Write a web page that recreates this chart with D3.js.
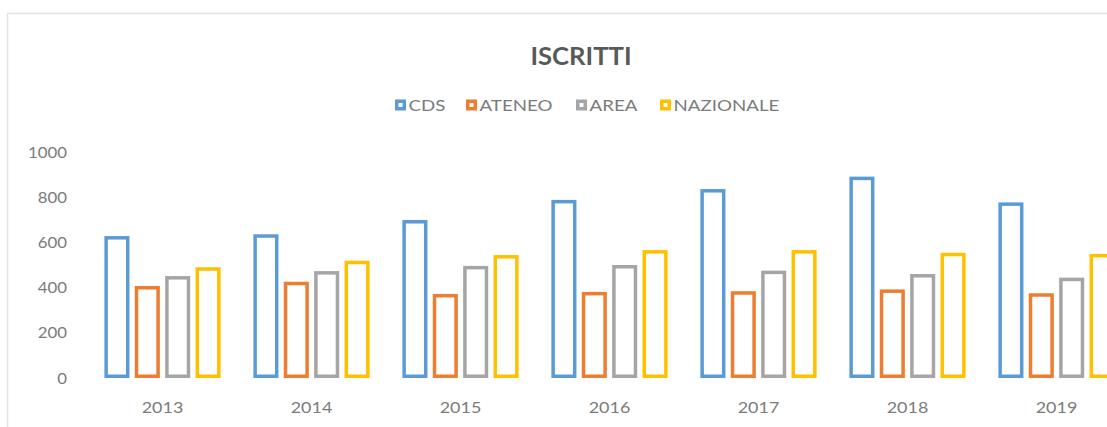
<!DOCTYPE html>
<html>
<head>
<meta charset="utf-8">
<script src="https://cdn.jsdelivr.net/npm/d3@7"></script>
<style>
  body { margin: 0; background: #fff; }
  svg text { font-family: Lato, "Open Sans", sans-serif; }
</style>
</head>
<body>
<svg id="chart" width="1107" height="427"></svg>
<script>
var years = ['2013', '2014', '2015', '2016', '2017', '2018', '2019'];
var seriesNames = ['CDS', 'ATENEO', 'AREA', 'NAZIONALE'];
var cds       = [628, 636, 699, 788, 836, 891, 777];
var ateneo    = [407, 426, 372, 381, 384, 392, 375];
var area      = [451, 473, 496, 500, 475, 460, 444];
var nazionale = [490, 519, 544, 566, 566, 554, 549];
var yTicks = [0, 200, 400, 600, 800, 1000];

var colors = ['#5b9bd5', '#ed7d31', '#a5a5a5', '#ffc000'];
var seriesValues = [cds, ateneo, area, nazionale];
var textColor = '#7b7b7b';

var svg = d3.select('#chart');

// chart frame (only top/left edges are visible, the rest is cropped)
svg.append('rect')
    .attr('x', 7.5).attr('y', 13.5)
    .attr('width', 1200).attr('height', 500)
    .attr('fill', 'none')
    .attr('stroke', '#e3e3e3')
    .attr('stroke-width', 1.5);

var x0 = d3.scaleBand().domain(years).range([88, 1131]).paddingInner(0.22).paddingOuter(0.11);
var x1 = d3.scaleBand().domain(seriesNames).range([0, x0.bandwidth()]).paddingInner(0.175);
var y = d3.scaleLinear().domain([0, 1000]).range([378, 152]);

// source picture is slightly stretched sideways, so text gets a small x-scale
function place(x, yy, s) {
    return 'translate(' + x + ',' + yy + ') scale(' + s + ',1)';
}

svg.append('text')
    .attr('transform', place(581, 65, 1.07))
    .attr('text-anchor', 'middle')
    .attr('font-size', 24).attr('font-weight', 'bold')
    .attr('fill', '#595959')
    .text('ISCRITTI');

// legend
var legendX = [395, 466, 576, 660];
var legend = svg.selectAll('g.legend').data(seriesNames).enter().append('g')
    .attr('class', 'legend')
    .attr('transform', function(d, i) { return 'translate(' + legendX[i] + ',105)'; });
legend.append('rect')
    .attr('x', 1.75).attr('y', -3.75)
    .attr('width', 7.5).attr('height', 7.5)
    .attr('fill', '#fff')
    .attr('stroke', function(d, i) { return colors[i]; })
    .attr('stroke-width', 3.5);
legend.append('text')
    .attr('transform', place(13.5, 5.8, 1.17))
    .attr('font-size', 16).attr('fill', textColor)
    .text(function(d) { return d; });

// y axis labels (no axis line, no gridlines)
svg.selectAll('text.ytick').data(yTicks).enter().append('text')
    .attr('class', 'ytick')
    .attr('transform', function(d) { return place(67, y(d) + 5.6, 1.05); })
    .attr('text-anchor', 'end')
    .attr('font-size', 16).attr('fill', textColor)
    .text(function(d) { return d; });

// x labels
svg.selectAll('text.xtick').data(years).enter().append('text')
    .attr('class', 'xtick')
    .attr('transform', function(d) { return place(x0(d) + x0.bandwidth() / 2, 412.5, 1.12); })
    .attr('text-anchor', 'middle')
    .attr('font-size', 16).attr('fill', textColor)
    .text(function(d) { return d; });

var sw = 3.5;
var groups = svg.selectAll('g.group').data(years).enter().append('g')
    .attr('class', 'group')
    .attr('transform', function(d) { return 'translate(' + x0(d) + ',0)'; });

groups.selectAll('rect').data(function(d, yi) {
        return seriesNames.map(function(s, si) { return {s: s, si: si, v: seriesValues[si][yi]}; });
    })
    .enter().append('rect')
    .attr('x', function(d) { return x1(d.s) + sw / 2; })
    .attr('y', function(d) { return y(d.v) + sw / 2; })
    .attr('width', x1.bandwidth() - sw)
    .attr('height', function(d) { return y(0) - y(d.v) - sw; })
    .attr('fill', '#fff')
    .attr('stroke', function(d) { return colors[d.si]; })
    .attr('stroke-width', sw);
</script>
</body>
</html>
